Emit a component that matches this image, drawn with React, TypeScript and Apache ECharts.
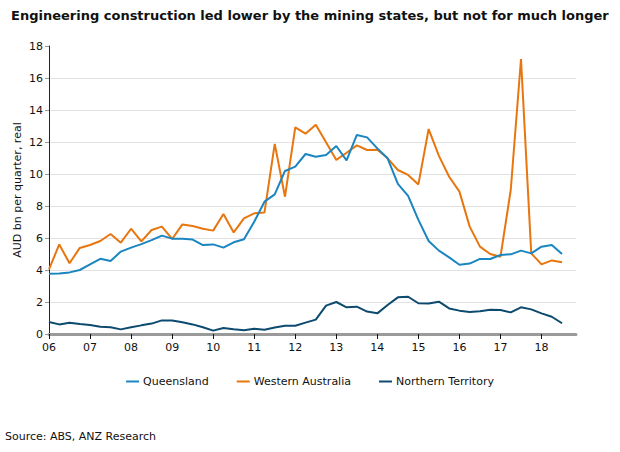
import React, { useEffect, useRef } from "react";
import * as echarts from "echarts";

const START_YEAR = 2006;
const yearTicks = [2006, 2007, 2008, 2009, 2010, 2011, 2012, 2013, 2014, 2015, 2016, 2017, 2018];
const seriesNames = ["Queensland", "Western Australia", "Northern Territory"];

const queensland = [
  3.77, 3.78, 3.85, 4.0, 4.35, 4.7, 4.56, 5.15, 5.4, 5.62, 5.87, 6.15, 5.96,
  5.95, 5.9, 5.56, 5.6, 5.4, 5.73, 5.92, 7.02, 8.27, 8.73, 10.19, 10.46, 11.25, 11.08,
  11.19, 11.75, 10.85, 12.44, 12.29, 11.6, 10.98, 9.38, 8.63, 7.13, 5.81, 5.21, 4.79,
  4.33, 4.4, 4.69, 4.69, 4.94, 4.98, 5.21, 5.04, 5.46, 5.56, 5.0,
];
const westernAustralia = [
  4.04, 5.6, 4.42, 5.38, 5.56, 5.81, 6.25, 5.71, 6.58, 5.79, 6.5, 6.71, 5.94,
  6.85, 6.75, 6.58, 6.46, 7.5, 6.35, 7.23, 7.54, 7.6, 11.88, 8.58, 12.92, 12.52, 13.08,
  11.98, 10.88, 11.33, 11.79, 11.5, 11.52, 10.98, 10.25, 9.94, 9.35, 12.81, 11.13, 9.83,
  8.9, 6.71, 5.46, 5.0, 4.83, 9.0, 17.19, 5.04, 4.35, 4.6, 4.48,
];
const northernTerritory = [
  0.75, 0.6, 0.71, 0.62, 0.56, 0.46, 0.42, 0.29, 0.42, 0.54, 0.65, 0.85, 0.85,
  0.73, 0.6, 0.42, 0.21, 0.38, 0.29, 0.23, 0.33, 0.27, 0.4, 0.52, 0.52, 0.71, 0.9,
  1.77, 2.0, 1.67, 1.71, 1.4, 1.29, 1.81, 2.29, 2.33, 1.92, 1.9, 2.02, 1.6,
  1.46, 1.38, 1.42, 1.52, 1.5, 1.35, 1.67, 1.54, 1.29, 1.08, 0.67,
];

const colors = ["#1a86c1", "#e8760f", "#0c4a6f"];
const FONT = "DejaVu Sans, Verdana, sans-serif";

const toPairs = (vals: number[]) => vals.map((v, i) => [START_YEAR + i * 0.25, v]);

export default function App() {
  const ref = useRef<HTMLDivElement>(null);
  useEffect(() => {
    document.body.style.margin = "0";
    const chart = echarts.init(ref.current!, null, { renderer: "svg" });
    const allSeries = [queensland, westernAustralia, northernTerritory];
    chart.setOption({
      animation: false,
      backgroundColor: "#ffffff",
      title: {
        text: "Engineering construction led lower by the mining states, but not for much longer",
        left: 6,
        top: 4,
        textStyle: { fontFamily: FONT, fontSize: 13, fontWeight: "bold", color: "#111" },
      },
      graphic: [
        {
          type: "text",
          left: 5,
          top: 431,
          style: { text: "Source: ABS, ANZ Research", font: `11px ${FONT}`, fill: "#111" },
        },
      ],
      legend: {
        data: seriesNames,
        left: "center",
        top: 371,
        icon: "rect",
        itemWidth: 13,
        itemHeight: 2,
        itemGap: 28,
        textStyle: { fontFamily: FONT, fontSize: 11, color: "#111", padding: [0, 0, 0, -1] },
      },
      grid: { left: 49, right: 44, top: 46, bottom: 118 },
      xAxis: {
        type: "value",
        min: START_YEAR,
        max: 2018.84,
        interval: 1,
        axisLine: { show: true, lineStyle: { color: "#9a9a9a", width: 3 } },
        axisTick: { show: true, length: 5, customValues: yearTicks, lineStyle: { color: "#111" } },
        axisLabel: {
          customValues: yearTicks,
          fontFamily: FONT,
          fontSize: 11,
          color: "#111",
          margin: 8,
          formatter: (v: number) => String(Math.round(v) % 100).padStart(2, "0"),
        },
        splitLine: { show: false },
      },
      yAxis: {
        type: "value",
        min: 0,
        max: 18,
        interval: 2,
        name: "AUD bn per quarter, real",
        nameLocation: "middle",
        nameGap: 26,
        nameMoveOverlap: false,
        nameTextStyle: { fontFamily: FONT, fontSize: 11, color: "#111" },
        axisLine: { show: true, lineStyle: { color: "#222", width: 1 } },
        axisTick: { show: true, length: 4, lineStyle: { color: "#999" } },
        axisLabel: { fontFamily: FONT, fontSize: 11, color: "#111", margin: 6 },
        splitLine: { show: true, showMaxLine: false, lineStyle: { color: "#e2e2e2", width: 1 } },
      },
      series: allSeries.map((vals, k) => ({
        name: seriesNames[k],
        type: "line",
        data: toPairs(vals),
        symbol: "none",
        color: colors[k],
        lineStyle: { color: colors[k], width: 2 },
        z: k === 0 ? 3 : k === 1 ? 2 : 4,
      })),
    });
    return () => chart.dispose();
  }, []);
  return <div ref={ref} style={{ width: 620, height: 452 }} />;
}
